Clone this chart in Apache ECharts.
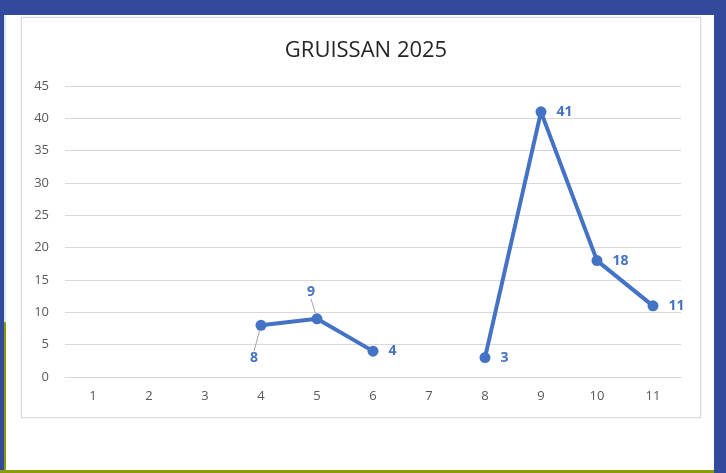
<!DOCTYPE html>
<html>
<head>
<meta charset="utf-8">
<script src="https://cdn.jsdelivr.net/npm/echarts@6/dist/echarts.min.js"></script>
<style>
  html, body { margin: 0; padding: 0; background: #fff; }
  #page { position: relative; width: 726px; height: 473px; overflow: hidden; }
  .band { position: absolute; }
  .blue { background: #334a9c; }
  .green { background: #8a9b06; }
  #box { position: absolute; left: 21px; top: 17px; width: 678px; height: 399px; border: 1px solid #d9d9d9; box-shadow: 0 0 2px #e6e6e6; }
  #main { position: absolute; left: 0; top: 0; width: 726px; height: 473px; }
</style>
</head>
<body>
<div id="page">
  <div class="band blue" style="left:0;top:0;width:726px;height:15px"></div>
  <div class="band blue" style="left:0;top:0;width:4px;height:473px"></div>
  <div class="band" style="left:4px;top:15px;width:2px;height:307px;background:#d6ecfa"></div>
  <div class="band green" style="left:4px;top:322px;width:2px;height:151px"></div>
  <div class="band green" style="left:0;top:470px;width:714px;height:3px"></div>
  <div class="band blue" style="left:714px;top:0;width:12px;height:473px"></div>
  <div id="box"></div>
  <div id="main"></div>
</div>
<script>
  // catégories (jours) et valeurs
  var categories = ['1', '2', '3', '4', '5', '6', '7', '8', '9', '10', '11'];
  var values = [null, null, null, 8, 9, 4, null, 3, 41, 18, 11];
  var yTicks = { min: 0, max: 45, step: 5 };

  // étiquettes déplacées (avec trait de rappel) : index -> décalage
  var moved = { 3: [-7, 33], 4: [-6, -27] };

  var seriesData = values.map(function (v, i) {
    if (v === null) return null;
    return { value: v, labelLine: { show: moved[i] !== undefined } };
  });

  var chart = echarts.init(document.getElementById('main'), null, { renderer: 'canvas' });

  var option = {
    backgroundColor: 'transparent',
    animation: false,
    title: {
      text: 'GRUISSAN 2025',
      left: 361,
      top: 35,
      textAlign: 'center',
      textStyle: { fontFamily: 'Open Sans', fontSize: 22, fontWeight: 'normal', color: '#262626' }
    },
    grid: { left: 65, right: 45, top: 86, bottom: 96 },
    xAxis: {
      type: 'category',
      data: categories,
      boundaryGap: true,
      axisLine: { lineStyle: { color: '#d9d9d9', width: 1 } },
      axisTick: { show: false },
      axisLabel: { color: '#595959', fontSize: 13, fontFamily: 'Open Sans', margin: 13 }
    },
    yAxis: {
      type: 'value',
      min: yTicks.min,
      max: yTicks.max,
      interval: yTicks.step,
      axisLine: { show: false },
      axisTick: { show: false },
      axisLabel: { color: '#595959', fontSize: 13, fontFamily: 'Open Sans', margin: 16 },
      splitLine: { lineStyle: { color: '#d9d9d9', width: 1 } }
    },
    series: [{
      type: 'line',
      data: seriesData,
      connectNulls: false,
      symbol: 'circle',
      symbolSize: 11,
      itemStyle: { color: '#4472c4' },
      lineStyle: { color: '#4472c4', width: 4 },
      label: {
        show: true,
        position: 'right',
        distance: 10,
        color: '#4472c4',
        fontWeight: 'bold',
        fontSize: 14,
        fontFamily: 'Open Sans'
      },
      labelLine: { show: false, lineStyle: { color: '#a6a6a6', width: 1 } },
      labelLayout: function (p) {
        var d = moved[p.dataIndex];
        if (!d) return {};
        var cx = p.rect.x + p.rect.width / 2;
        var cy = p.rect.y + p.rect.height / 2;
        return { x: cx + d[0], y: cy + d[1], align: 'center', verticalAlign: 'middle' };
      }
    }]
  };

  chart.setOption(option);
</script>
</body>
</html>
